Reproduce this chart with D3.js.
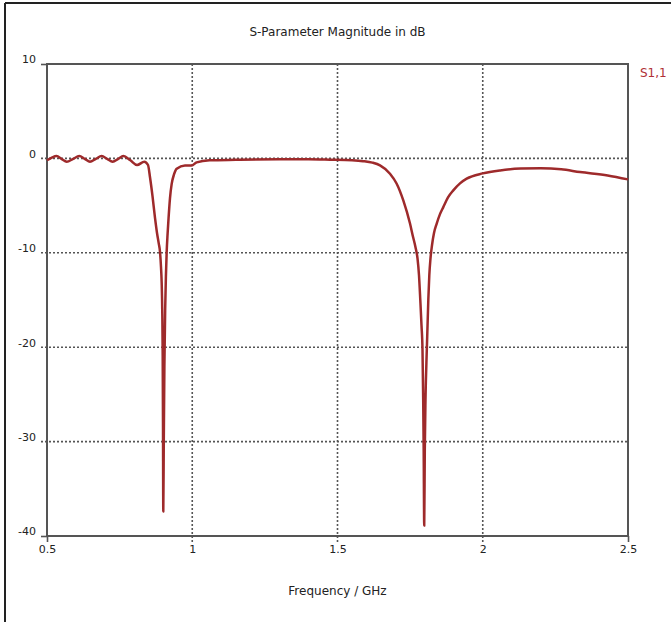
<!DOCTYPE html>
<html>
<head>
<meta charset="utf-8">
<script src="https://cdn.jsdelivr.net/npm/d3@7"></script>
<style>
    body { margin: 0; background: #fff; }
    text { font-family: "DejaVu Sans", sans-serif; }
</style>
</head>
<body>
<div id="chart"></div>
<script>
// Frequency points (GHz) and S1,1 magnitude (dB)
const freq = [
    0.5, 0.515, 0.533, 0.55, 0.568, 0.59, 0.611, 0.63, 0.648, 0.668, 0.688, 0.707, 0.726, 0.745, 0.763, 0.787, 0.81, 0.835,
    0.8477, 0.8546, 0.8632, 0.8718, 0.8787, 0.8846, 0.889, 0.8924, 0.8948, 0.8969, 0.8983, 0.8993, 0.9003,
    0.902, 0.9041, 0.9068, 0.9093, 0.912, 0.9151, 0.9185, 0.9234, 0.9292, 0.9372, 0.9465,
    0.975, 0.998, 1.015, 1.06, 1.15, 1.3, 1.4, 1.474, 1.55, 1.588, 1.62,
    1.6463, 1.6807, 1.7038, 1.7265, 1.7496, 1.7599, 1.7685, 1.7754, 1.7806, 1.785, 1.7892, 1.7926, 1.795, 1.7967, 1.7985,
    1.8005, 1.8029, 1.8074, 1.8126, 1.816, 1.8201, 1.8253, 1.8322, 1.8415, 1.8528, 1.8642, 1.8804, 1.8986, 1.9217, 1.9447,
    2.0, 2.06, 2.13, 2.2, 2.27, 2.335, 2.43, 2.5
];
const s11 = [
    -0.2, 0.05, 0.25, -0.05, -0.35, -0.05, 0.25, -0.05, -0.35, -0.05, 0.25, -0.05, -0.35, -0.05, 0.25, -0.2, -0.7, -0.35,
    -0.7, -2.0, -4.0, -6.3, -7.9, -9.0, -9.9, -11.5, -13.2, -16.5, -21, -28, -37.4,
    -30, -22, -16, -12.5, -9.9, -8.0, -6.3, -4.2, -2.7, -1.7, -1.1,
    -0.75, -0.75, -0.42, -0.2, -0.15, -0.1, -0.1, -0.14, -0.2, -0.29, -0.45,
    -0.74, -1.62, -2.68, -4.45, -6.9, -8.3, -9.4, -10.6, -12.4, -15, -17.7, -20.3, -25.6, -30.9, -38.9,
    -30.9, -25.6, -20.3, -15, -12.4, -10.6, -9.2, -7.9, -6.9, -5.9, -5.16, -4.13, -3.39, -2.65, -2.15,
    -1.59, -1.27, -1.08, -1.05, -1.15, -1.45, -1.8, -2.22
];

const xTicks = [0.5, 1, 1.5, 2, 2.5];
const xTickLabels = ["0.5", "1", "1.5", "2", "2.5"];
const yTicks = [10, 0, -10, -20, -30, -40];
const yTickLabels = ["10", "0", "-10", "-20", "-30", "-40"];

const data = freq.map((f, i) => ({ x: f, y: s11[i] }));

var fullW = 671, fullH = 622;
var margin = { top: 64, right: 43, bottom: 86, left: 47 },
    width = fullW - margin.left - margin.right,
    height = fullH - margin.top - margin.bottom;

const root = d3.select("#chart").append("svg")
    .attr("width", fullW)
    .attr("height", fullH);

// outer frame (only left and top edges are visible)
root.append("line").attr("x1", 5).attr("x2", 5).attr("y1", 3).attr("y2", fullH)
    .attr("stroke", "#222").attr("stroke-width", 2);
root.append("line").attr("x1", 5).attr("x2", fullW).attr("y1", 3).attr("y2", 3)
    .attr("stroke", "#222").attr("stroke-width", 2);

// title
root.append("text")
    .attr("x", margin.left + width / 2)
    .attr("y", 36)
    .attr("text-anchor", "middle")
    .style("font-size", "12px")
    .style("fill", "#222")
    .text("S-Parameter Magnitude in dB");

const svg = root.append("g")
    .attr("transform", `translate(${margin.left}, ${margin.top})`);

const x = d3.scaleLinear().domain([0.5, 2.5]).range([0, width]);
const y = d3.scaleLinear().domain([-40, 10]).range([height, 0]);

// dotted grid
svg.selectAll(".vgrid")
    .data(xTicks.slice(1, -1))
    .enter()
    .append("line")
    .attr("x1", d => x(d)).attr("x2", d => x(d))
    .attr("y1", 0).attr("y2", height + 6)
    .attr("stroke", "#555")
    .attr("stroke-width", 1.6)
    .attr("stroke-dasharray", "2,2");

svg.selectAll(".hgrid")
    .data(yTicks.slice(1, -1))
    .enter()
    .append("line")
    .attr("x1", -6).attr("x2", width)
    .attr("y1", d => y(d)).attr("y2", d => y(d))
    .attr("stroke", "#555")
    .attr("stroke-width", 1.6)
    .attr("stroke-dasharray", "2,2");

// axes
svg.append("g")
    .attr("transform", "translate(0," + height + ")")
    .call(d3.axisBottom(x).tickValues(xTicks).tickSize(6).tickPadding(3)
        .tickFormat((d, i) => xTickLabels[i]))
    .call(g => g.select(".domain").remove())
    .call(g => g.selectAll(".tick line").attr("stroke", "#555").attr("stroke-width", 1.6)
        .filter((d, i) => i > 0 && i < xTicks.length - 1).remove());

svg.append("g")
    .call(d3.axisLeft(y).tickValues(yTicks).tickSize(6).tickPadding(5)
        .tickFormat((d, i) => yTickLabels[i]))
    .call(g => g.select(".domain").remove())
    .call(g => g.selectAll(".tick line").attr("stroke", "#555").attr("stroke-width", 1.6)
        .filter((d, i) => i > 0 && i < yTicks.length - 1).remove())
    .call(g => g.selectAll("text").attr("dy", "-0.1em"));

svg.selectAll(".tick text")
    .style("font-family", "DejaVu Sans")
    .style("font-size", "11px")
    .style("fill", "#222");

// plot box
svg.append("rect")
    .attr("x", 0).attr("y", 0)
    .attr("width", width).attr("height", height)
    .attr("fill", "none")
    .attr("stroke", "#555")
    .attr("stroke-width", 2);

// x axis title
root.append("text")
    .attr("x", margin.left + width / 2)
    .attr("y", 595)
    .attr("text-anchor", "middle")
    .style("font-size", "12px")
    .style("fill", "#222")
    .text("Frequency / GHz");

// legend
root.append("text")
    .attr("x", 640)
    .attr("y", 77)
    .style("font-size", "12px")
    .style("fill", "#b03035")
    .text("S1,1");

// the curve
const line = d3.line()
    .x(d => x(d.x))
    .y(d => y(d.y))
    .curve(d3.curveMonotoneX);

svg.append("path")
    .datum(data)
    .attr("fill", "none")
    .attr("stroke", "#9e2a2b")
    .attr("stroke-width", 2.5)
    .attr("stroke-linejoin", "round")
    .attr("d", line);
</script>
</body>
</html>
